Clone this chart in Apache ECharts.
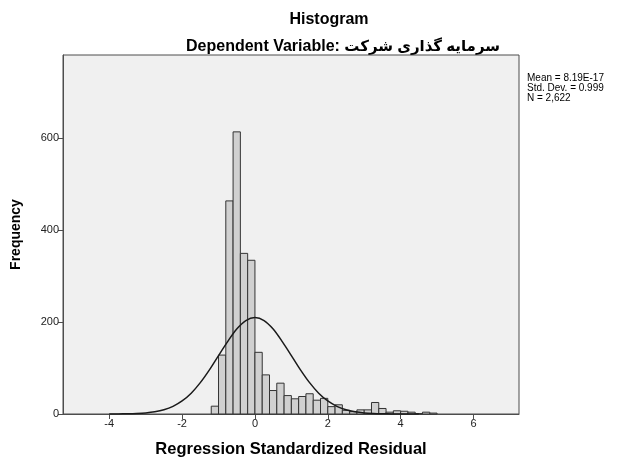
<!DOCTYPE html>
<html>
<head>
<meta charset="utf-8">
<script src="https://cdn.jsdelivr.net/npm/echarts@6/dist/echarts.min.js"></script>
<style>
html,body{margin:0;padding:0;background:#fff;}
#chart{width:620px;height:458px;}
</style>
</head>
<body>
<div id="chart"></div>
<script>
// Histogram bins (lower edge of each 0.2-wide bin) and frequencies
var binStarts = [-1.2,-1.0,-0.8,-0.6,-0.4,-0.2,0.0,0.2,0.4,0.6,0.8,1.0,1.2,1.4,1.6,1.8,2.0,2.2,2.4,2.6,2.8,3.0,3.2,3.4,3.6,3.8,4.0,4.2,4.4,4.6,4.8];
var binEnds   = [-1.0,-0.8,-0.6,-0.4,-0.2,0.0,0.2,0.4,0.6,0.8,1.0,1.2,1.4,1.6,1.8,2.0,2.2,2.4,2.6,2.8,3.0,3.2,3.4,3.6,3.8,4.0,4.2,4.4,4.6,4.8,5.0];
var counts    = [17,128,463,613,349,334,134,85,51,67,40,33,38,44,30,34,16,20,8,5,9,9,25,12,4,7,6,4,1,4,2];

// Normal curve points
var curveX = [-4,-3.75,-3.5,-3.25,-3,-2.75,-2.5,-2.25,-2,-1.75,-1.5,-1.25,-1,-0.75,-0.5,-0.25,0,0.25,0.5,0.75,1,1.25,1.5,1.75,2,2.25,2.5,2.75,3,3.25,3.5,3.75,4,4.25,4.5];
var curveY = [0.1,0.2,0.5,1.1,2.3,4.8,9.2,16.6,28.3,45.2,68.1,95.9,127,157.3,184.6,203,209.4,203,184.6,157.3,127,95.9,68.1,45.2,28.3,16.6,9.2,4.8,2.3,1.1,0.5,0.2,0.1,0.0,0.0];

var xTicks = [-4,-2,0,2,4,6];
var yTicks = [0,200,400,600];

var statsLines = ['Mean = 8.19E-17','Std. Dev. = 0.999','N = 2,622'];

var FONT = '"Liberation Sans", Arial, "DejaVu Sans", sans-serif';

var barData = binStarts.map(function(s,i){ return [s, binEnds[i], counts[i]]; });
var lineData = curveX.map(function(x,i){ return [x, curveY[i]]; });

var chart = echarts.init(document.getElementById('chart'), null, {renderer:'canvas'});
chart.setOption({
  animation: false,
  backgroundColor: '#ffffff',
  title: [
    {text: 'Histogram', left: 324, top: 7, textAlign: 'center',
     textStyle: {fontFamily: FONT, fontSize: 16, fontWeight: 'bold', color: '#000'}},
    {text: '{a|Dependent Variable:} {b|سرمایه گذاری شرکت}', left: 338, top: 34, textAlign: 'center',
     textStyle: {fontFamily: FONT, fontSize: 16, fontWeight: 'bold', color: '#000',
       rich: {
         a: {fontFamily: FONT, fontSize: 16, fontWeight: 'bold', color: '#000'},
         b: {fontFamily: FONT, fontSize: 15, fontWeight: 'bold', color: '#000'}
       }}}
  ],
  grid: {left: 63, right: 101, top: 55, bottom: 44, show: true,
         backgroundColor: '#f0f0f0', borderColor: '#4d4d4d', borderWidth: 1,
         containLabel: false, outerBoundsMode: 'none'},
  xAxis: {
    type: 'value', min: -5.27, max: 7.25,
    name: 'Regression Standardized Residual', nameLocation: 'middle', nameGap: 27,
    nameTextStyle: {fontFamily: FONT, fontSize: 16.5, fontWeight: 'bold', color: '#000'},
    axisLine: {show: true, onZero: false, lineStyle: {color: '#4d4d4d', width: 1}},
    axisTick: {show: true, length: 5, customValues: xTicks, lineStyle: {color: '#4d4d4d'}},
    axisLabel: {customValues: xTicks, fontFamily: FONT, fontSize: 11, color: '#222', margin: 4},
    splitLine: {show: false}
  },
  yAxis: {
    type: 'value', min: 0, max: 780,
    name: 'Frequency', nameLocation: 'middle', nameGap: 40, nameRotate: 90,
    nameTextStyle: {fontFamily: FONT, fontSize: 14, fontWeight: 'bold', color: '#000'},
    axisLine: {show: true, onZero: false, lineStyle: {color: '#4d4d4d', width: 1}},
    axisTick: {show: true, length: 5, customValues: yTicks, lineStyle: {color: '#4d4d4d'}},
    axisLabel: {customValues: yTicks, fontFamily: FONT, fontSize: 11, color: '#222', margin: 4},
    splitLine: {show: false}
  },
  graphic: [{
    type: 'text', left: 527, top: 73,
    style: {text: statsLines.join('\n'), fontFamily: FONT, fontSize: 10, lineHeight: 10, fill: '#000'}
  }],
  series: [
    {
      type: 'custom',
      data: barData,
      encode: {x: [0,1], y: 2},
      renderItem: function(params, api){
        var p0 = api.coord([api.value(0), api.value(2)]);
        var p1 = api.coord([api.value(1), 0]);
        return {
          type: 'rect',
          shape: {x: p0[0], y: p0[1], width: p1[0]-p0[0], height: p1[1]-p0[1]},
          style: {fill: '#d0d0d0', stroke: '#333', lineWidth: 1}
        };
      },
      z: 2
    },
    {
      type: 'line',
      data: lineData,
      smooth: 0.3,
      showSymbol: false,
      lineStyle: {color: '#1a1a1a', width: 1.5},
      z: 3
    }
  ]
});
</script>
</body>
</html>
